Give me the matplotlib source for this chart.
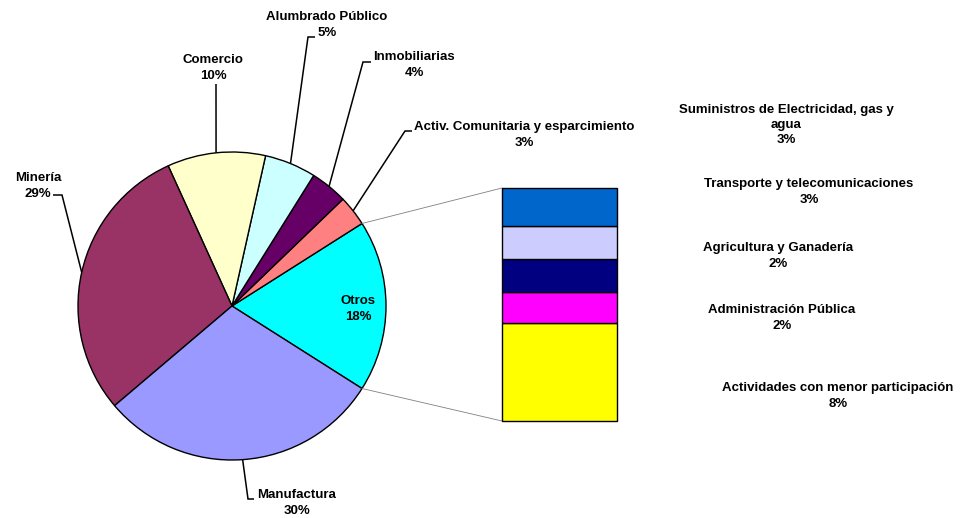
import numpy as np
import matplotlib
matplotlib.use("Agg")
import matplotlib.pyplot as plt

# ---------------- data ----------------
pie_labels = ["Otros", "Activ. Comunitaria y esparcimiento", "Inmobiliarias",
              "Alumbrado Público", "Comercio", "Minería", "Manufactura"]
pie_values = [18.0, 3.2, 3.9, 5.4, 10.3, 29.4, 29.8]
pie_colors = ["#00FFFF", "#FF8080", "#660066", "#CCFFFF", "#FFFFCC", "#993366", "#9999FF"]

bar_labels = ["Actividades con menor participación", "Administración Pública",
              "Agricultura y Ganadería", "Transporte y telecomunicaciones",
              "Suministros de Electricidad, gas y\nagua"]
bar_values = [7.6, 2.4, 2.5, 2.6, 2.9]
bar_colors = ["#FFFF00", "#FF00FF", "#000080", "#CCCCFF", "#0066CC"]

# ---------------- layout (pixel coords, y from top) ----------------
W, H = 960, 518
PIE_C = (232, 306)
PIE_R = 154
BAR_RECT = (502, 188, 617, 421)  # x0, y_top, x1, y_bottom

# label centre positions
pie_label_pos = {
    "Otros": (358, 309),
    "Activ. Comunitaria y esparcimiento": (524, 135),
    "Inmobiliarias": (414, 65),
    "Alumbrado Público": (327, 25),
    "Comercio": (213, 68),
    "Minería": (38, 186),
    "Manufactura": (297, 503),
}
# leader elbow and tick end
leaders = {
    "Activ. Comunitaria y esparcimiento": ((405, 131), (412, 131)),
    "Inmobiliarias": ((363, 62), (371, 62)),
    "Alumbrado Público": ((308, 37), (315, 37)),
    "Comercio": ((216, 84), (216, 84)),
    "Minería": ((62, 195), (53, 195)),
    "Manufactura": ((248, 499), (254, 499)),
}
bar_label_pos = [(838, 396), (782, 318), (778, 256), (809, 192), (786, 125)]

FONT = dict(family=["Liberation Sans", "DejaVu Sans"], weight="bold", size=9.5, color="black")
LS = 1.36


def Y(y):
    return H - y


fig = plt.figure(figsize=(W / 100, H / 100), dpi=100)
fig.patch.set_facecolor("white")
ax = fig.add_axes([0, 0, 1, 1])

start = -360 * pie_values[0] / sum(pie_values) / 2
wedges, _ = ax.pie(pie_values, colors=pie_colors, startangle=start, counterclock=True,
                   center=(PIE_C[0], Y(PIE_C[1])), radius=PIE_R,
                   wedgeprops=dict(edgecolor="black", linewidth=1.0))
ax.set_xlim(0, W)
ax.set_ylim(0, H)
ax.set_aspect("equal")
ax.axis("off")

cx, cy = PIE_C[0], Y(PIE_C[1])
for w, lab, val in zip(wedges, pie_labels, pie_values):
    tx, ty = pie_label_pos[lab]
    ax.text(tx, Y(ty), f"{lab}\n{round(val):d}%", ha="center", va="center",
            linespacing=LS, **FONT)
    if lab in leaders:
        mid = np.deg2rad((w.theta1 + w.theta2) / 2)
        ex, ey = cx + PIE_R * np.cos(mid), cy + PIE_R * np.sin(mid)
        (bx, by), (kx, ky) = leaders[lab]
        ax.plot([ex, bx, kx], [ey, Y(by), Y(ky)], color="black", lw=1.1,
                solid_capstyle="butt", solid_joinstyle="miter")

# gray connector lines from "Otros" wedge edges to the bar
w0 = wedges[0]
x0, yt, x1, yb = BAR_RECT
for ang, by in [(w0.theta2, yt), (w0.theta1, yb)]:
    a = np.deg2rad(ang)
    ax.plot([cx + PIE_R * np.cos(a), x0], [cy + PIE_R * np.sin(a), Y(by)],
            color="#808080", lw=0.6)

# stacked bar
bax = fig.add_axes([x0 / W, Y(yb) / H, (x1 - x0) / W, (yb - yt) / H])
bottoms = np.concatenate([[0], np.cumsum(bar_values)[:-1]])
bax.bar([0] * len(bar_values), bar_values, bottom=bottoms, width=1.0,
        color=bar_colors, edgecolor="black", linewidth=1.0, clip_on=False)
bax.set_xlim(-0.5, 0.5)
bax.set_ylim(0, sum(bar_values))
bax.axis("off")

for lab, val, (tx, ty) in zip(bar_labels, bar_values, bar_label_pos):
    ax.text(tx, Y(ty), f"{lab}\n{round(val):d}%", ha="center", va="center",
            linespacing=LS, **FONT)

fig.savefig("out.png", dpi=100, facecolor="white")
